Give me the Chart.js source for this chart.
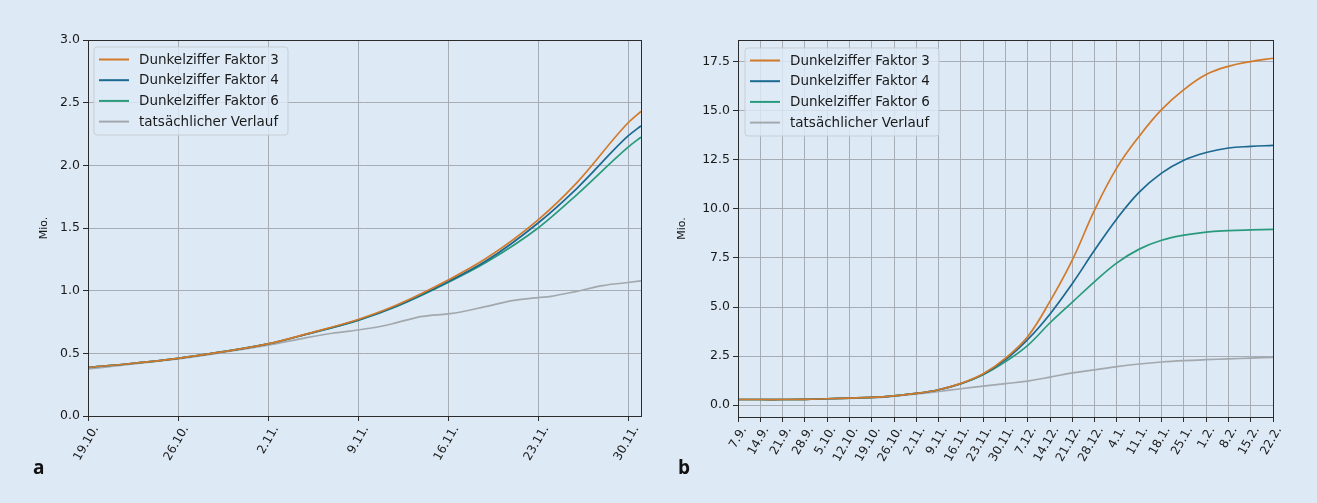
<!DOCTYPE html>
<html lang="de">
<head>
<meta charset="UTF-8">
<title>Dunkelziffer Faktor 3 / 4 / 6</title>
<script src="https://cdn.jsdelivr.net/npm/chart.js"></script>
<style>
  body {
    margin: 0;
    width: 1317px;
    height: 503px;
    overflow: hidden;
    position: relative;
    background: #dde9f5;
  }
  .wrap { position: absolute; top: 0; height: 503px; }
  #wrapA { left: 0; width: 660px; }
  #wrapB { left: 660px; width: 657px; }
  .panel {
    position: absolute;
    font-family: 'Open Sans', sans-serif;
    font-weight: 700;
    font-size: 19px;
    line-height: 19px;
    color: #111;
  }
</style>
</head>
<body>
<div class="wrap" id="wrapA"><canvas id="chartA" width="660" height="503"></canvas></div>
<div class="wrap" id="wrapB"><canvas id="chartB" width="657" height="503"></canvas></div>
<div class="panel" style="left:33px; top:458px">a</div>
<div class="panel" style="left:678px; top:458px">b</div>

<script>
// ---- panel a: 19.10. - 1.12. (days since 19.10.) ----
const tickDaysA = [0, 7, 14, 21, 28, 35, 42];
const tickLabelsA = ['19.10.', '26.10.', '2.11.', '9.11.', '16.11.', '23.11.', '30.11.'];
const yTicksA = [0, 0.5, 1, 1.5, 2, 2.5, 3];

const daysA = [0, 3, 7, 10, 14, 17, 21, 24, 28, 31, 35, 38, 42, 43];
const faktor3A = [0.388, 0.415, 0.46, 0.505, 0.575, 0.655, 0.77, 0.885, 1.085, 1.26, 1.565, 1.86, 2.34, 2.43];
const faktor4A = [0.388, 0.415, 0.46, 0.505, 0.575, 0.653, 0.765, 0.878, 1.072, 1.24, 1.54, 1.815, 2.235, 2.315];
const faktor6A = [0.388, 0.415, 0.46, 0.505, 0.575, 0.652, 0.763, 0.874, 1.065, 1.228, 1.50, 1.765, 2.145, 2.225];
const verlaufDaysA = [0, 3, 7, 10, 14, 17, 19, 21, 23, 24, 26, 28, 29, 31, 33, 35, 36, 38, 40, 42, 43];
const verlaufA = [0.375, 0.41, 0.455, 0.50, 0.565, 0.625, 0.66, 0.686, 0.72, 0.745, 0.795, 0.815, 0.83, 0.875, 0.92, 0.945, 0.955, 0.995, 1.04, 1.065, 1.078];

// ---- panel b: 7.9. - 22.2., weekly ----
const weekLabelsB = ['7.9.', '14.9.', '21.9.', '28.9.', '5.10.', '12.10.', '19.10.', '26.10.', '2.11.', '9.11.',
  '16.11.', '23.11.', '30.11.', '7.12.', '14.12.', '21.12.', '28.12.', '4.1.', '11.1.', '18.1.', '25.1.',
  '1.2.', '8.2.', '15.2.', '22.2.'];
const daysB = [0, 7, 14, 21, 28, 35, 42, 49, 56, 63, 70, 77, 84, 91, 98, 105, 112, 119, 126, 133, 140, 147, 154, 161, 168];
const yTicksB = [0, 2.5, 5, 7.5, 10, 12.5, 15, 17.5];

const faktor3B = [0.29, 0.29, 0.29, 0.30, 0.33, 0.36, 0.40, 0.48, 0.60, 0.79, 1.11, 1.60, 2.40, 3.50, 5.30, 7.40, 9.95, 12.10, 13.70, 15.05, 16.07, 16.84, 17.26, 17.50, 17.67];
const faktor4B = [0.29, 0.29, 0.29, 0.30, 0.33, 0.36, 0.40, 0.48, 0.60, 0.79, 1.10, 1.58, 2.32, 3.35, 4.65, 6.20, 7.90, 9.50, 10.85, 11.82, 12.48, 12.87, 13.10, 13.18, 13.23];
const faktor6B = [0.29, 0.29, 0.29, 0.30, 0.33, 0.36, 0.40, 0.48, 0.60, 0.79, 1.09, 1.55, 2.22, 3.05, 4.20, 5.25, 6.30, 7.25, 7.95, 8.40, 8.66, 8.82, 8.89, 8.93, 8.96];
const verlaufB = [0.29, 0.29, 0.29, 0.30, 0.33, 0.35, 0.38, 0.46, 0.57, 0.70, 0.84, 0.97, 1.10, 1.23, 1.43, 1.65, 1.80, 1.97, 2.10, 2.20, 2.27, 2.32, 2.36, 2.40, 2.44];

const seriesNames = ['Dunkelziffer Faktor 3', 'Dunkelziffer Faktor 4', 'Dunkelziffer Faktor 6', 'tatsächlicher Verlauf'];
const seriesColors = ['#d27a2a', '#1b6890', '#2a9a7c', '#a3a8ad'];

const pts = (xs, ys) => xs.map((x, i) => ({ x: x, y: ys[i] }));

// matplotlib style frame + legend drawn inside the plot area
const framePlugin = {
  id: 'frame',
  afterDraw(chart, args, opts) {
    const ctx = chart.ctx, a = chart.chartArea;
    ctx.save();
    ctx.strokeStyle = '#2b2b2b';
    ctx.lineWidth = 1;
    ctx.strokeRect(Math.round(a.left) + 0.5, Math.round(a.top) + 0.5,
      Math.round(a.right - a.left), Math.round(a.bottom - a.top));

    // legend
    const x0 = a.left + opts.dx, y0 = a.top + opts.dy;
    const w = 194, h = 88, r = 3;
    ctx.beginPath();
    ctx.moveTo(x0 + r, y0);
    ctx.arcTo(x0 + w, y0, x0 + w, y0 + h, r);
    ctx.arcTo(x0 + w, y0 + h, x0, y0 + h, r);
    ctx.arcTo(x0, y0 + h, x0, y0, r);
    ctx.arcTo(x0, y0, x0 + w, y0, r);
    ctx.closePath();
    ctx.fillStyle = 'rgba(222,234,246,0.82)';
    ctx.fill();
    ctx.strokeStyle = '#c9ced4';
    ctx.stroke();

    ctx.font = '13.5px "DejaVu Sans", sans-serif';
    ctx.textBaseline = 'middle';
    chart.data.datasets.forEach((ds, i) => {
      const cy = y0 + 12.5 + i * 20.7;
      ctx.strokeStyle = ds.borderColor;
      ctx.lineWidth = 2;
      ctx.beginPath();
      ctx.moveTo(x0 + 5, cy);
      ctx.lineTo(x0 + 35, cy);
      ctx.stroke();
      ctx.fillStyle = '#1a1a1a';
      ctx.fillText(ds.label, x0 + 45, cy + 0.5);
    });
    ctx.restore();
  }
};

function makeChart(id, sets, cfg) {
  return new Chart(document.getElementById(id), {
    type: 'line',
    data: {
      datasets: sets.map((s, i) => ({
        label: seriesNames[i],
        data: s,
        borderColor: seriesColors[i],
        borderWidth: 1.7,
        pointRadius: 0,
        cubicInterpolationMode: cfg.curve,
        tension: 0.4,
        fill: false
      }))
    },
    options: {
      responsive: false,
      animation: false,
      layout: { padding: cfg.padding },
      plugins: {
        legend: { display: false },
        tooltip: { enabled: false },
        frame: { dx: cfg.legendDx, dy: cfg.legendDy }
      },
      scales: {
        x: {
          type: 'linear',
          min: cfg.xMin,
          max: cfg.xMax,
          afterBuildTicks: s => { s.ticks = cfg.xTicks.map(v => ({ value: v })); },
          afterFit: s => { s.height = cfg.xHeight; s.paddingLeft = 0; s.paddingRight = 0; },
          grid: { color: '#a6adb4', lineWidth: 1, tickLength: 5, tickColor: '#2b2b2b' },
          border: { display: false },
          ticks: {
            autoSkip: false,
            minRotation: 60,
            maxRotation: 60,
            padding: 2,
            labelOffset: cfg.labelOffset,
            color: '#1a1a1a',
            font: { family: '"DejaVu Sans", sans-serif', size: 12 },
            callback: v => cfg.xLabels[cfg.xTicks.indexOf(v)]
          }
        },
        y: {
          min: cfg.yMin,
          max: cfg.yMax,
          afterBuildTicks: s => { s.ticks = cfg.yTicks.map(v => ({ value: v })); },
          afterFit: s => { s.width = cfg.yWidth; s.paddingTop = 0; s.paddingBottom = 0; },
          grid: { color: '#a6adb4', lineWidth: 1, tickLength: 5, tickColor: '#2b2b2b' },
          border: { display: false },
          title: {
            display: true,
            text: 'Mio.',
            color: '#1a1a1a',
            padding: { top: 4, bottom: 4 },
            font: { family: '"DejaVu Sans", sans-serif', size: 11 }
          },
          ticks: {
            padding: 3,
            color: '#1a1a1a',
            font: { family: '"DejaVu Sans", sans-serif', size: 12.5 },
            callback: v => v.toFixed(1)
          }
        }
      }
    },
    plugins: [framePlugin]
  });
}

makeChart('chartA', [
  pts(daysA, faktor3A),
  pts(daysA, faktor4A),
  pts(daysA, faktor6A),
  pts(verlaufDaysA, verlaufA)
], {
  padding: { left: 34, right: 19, top: 40, bottom: 0 },
  yWidth: 54, xHeight: 87, curve: 'monotone',
  xMin: 0, xMax: 43, xTicks: tickDaysA, xLabels: tickLabelsA,
  yMin: 0, yMax: 3, yTicks: yTicksA,
  labelOffset: 8, legendDx: 6, legendDy: 7
});

makeChart('chartB', [
  pts(daysB, faktor3B),
  pts(daysB, faktor4B),
  pts(daysB, faktor6B),
  pts(daysB, verlaufB)
], {
  padding: { left: 12, right: 44, top: 40, bottom: 0 },
  yWidth: 66, xHeight: 86, curve: 'default',
  xMin: 0, xMax: 168, xTicks: daysB, xLabels: weekLabelsB,
  yMin: -0.6, yMax: 18.6, yTicks: yTicksB,
  labelOffset: 6, legendDx: 7, legendDy: 8
});
</script>
</body>
</html>
